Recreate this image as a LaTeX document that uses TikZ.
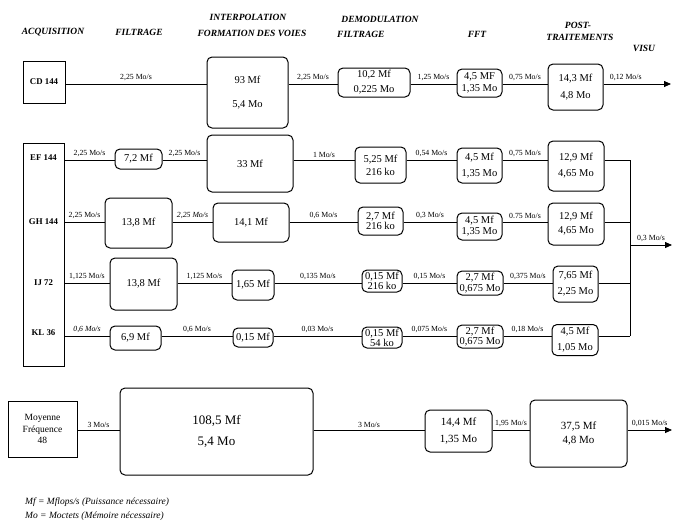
\documentclass[tikz,border=0pt]{standalone}
\usepackage{fontspec}
\setmainfont{Liberation Serif}
\usetikzlibrary{arrows.meta}

\begin{document}
\begin{tikzpicture}[
  x=1pt, y=-1pt,
  box/.style={rectangle,rounded corners=5pt,draw,line width=1pt,align=center,
    inner sep=0pt,font=\fontsize{10.5}{12}\selectfont},
  srcbox/.style={rectangle,draw,line width=1pt,inner sep=0pt},
  acq/.style={font=\fontsize{8.8}{10}\selectfont\bfseries,inner sep=0pt},
  hdr/.style={font=\fontsize{9.5}{10}\selectfont\bfseries\itshape,inner sep=0pt},
  ratelbl/.style={font=\fontsize{7.8}{8}\selectfont,inner sep=1pt,above=1.5pt,midway},
  wire/.style={line width=0.8pt},
  arrow/.style={wire,-{Triangle[length=7pt,width=6pt]}}
]
  \useasboundingbox (0,0) rectangle (673,528);

  % headings
  \node[hdr] (hacq) at (53,32) {ACQUISITION};
  \node[hdr] (hfil) at (139,32) {FILTRAGE};
  \node[hdr] (hint) at (248,17) {INTERPOLATION};
  \node[hdr] (hvoi) at (252,33) {FORMATION DES VOIES};
  \node[hdr] (hdem) at (380,19) {DEMODULATION};
  \node[hdr,anchor=west] (hdfil) at (337,34) {FILTRAGE};
  \node[hdr] (hfft) at (477,34) {FFT};
  \node[hdr] (hpos) at (578,25) {POST-};
  \node[hdr] (htra) at (580,37) {TRAITEMENTS};
  \node[hdr] (hvis) at (644,48) {VISU};

  % row levels
  \coordinate (r1) at (0,84);
  \coordinate (r2) at (0,160);
  \coordinate (r3) at (0,222);
  \coordinate (r4) at (0,283);
  \coordinate (r5) at (0,336);
  \coordinate (r6) at (0,430);

  % CD 144
  \node[srcbox,acq,minimum width=42pt,minimum height=42pt] (cd) at (44,82) {CD 144};
  \node[box,minimum width=81pt,minimum height=71pt] (mf93) at (247.5,92.5) {93 Mf\\[12pt]5,4 Mo};
  \node[box,minimum width=72pt,minimum height=29pt] (dm1) at (374,82.5) {10,2 Mf\\[3pt]0,225 Mo};
  \node[box,minimum width=45pt,minimum height=28pt] (ft1) at (479.5,83) {4,5 MF\\1,35 Mo};
  \node[box,minimum width=55pt,minimum height=46pt] (pt1) at (575.5,87) {14,3 Mf\\[5pt]4,8 Mo};
  \coordinate (visu1) at (671,84);

  % EF GH IJ KL
  \node[srcbox,minimum width=41pt,minimum height=223pt] (ag) at (43.5,254.5) {};
  \node[acq] (ef) at (43.5,158) {EF 144};
  \node[acq] (gh) at (43.5,222) {GH 144};
  \node[acq] (ij) at (43.5,283) {IJ 72};
  \node[acq] (kl) at (43.5,333) {KL 36};

  \node[box,minimum width=47pt,minimum height=20pt] (f2) at (138.5,159) {7,2 Mf};
  \node[box,minimum width=86pt,minimum height=57pt] (i2) at (250,163.5) {33 Mf};
  \node[box,minimum width=51pt,minimum height=36pt] (d2) at (380.5,165) {5,25 Mf\\[1pt]216 ko};
  \node[box,minimum width=45pt,minimum height=35pt] (t2) at (479.5,165.5) {4,5 Mf\\[4pt]1,35 Mo};
  \node[box,minimum width=56pt,minimum height=50pt] (p2) at (576,166) {12,9 Mf\\[4pt]4,65 Mo};

  \node[box,minimum width=67pt,minimum height=50pt] (f3) at (138.5,223) {13,8 Mf};
  \node[box,minimum width=76pt,minimum height=39pt] (i3) at (251,222.5) {14,1 Mf};
  \node[box,minimum width=45pt,minimum height=28pt] (d3) at (380.5,221) {2,7 Mf\\[-2pt]216 ko};
  \node[box,minimum width=45pt,minimum height=27pt] (t3) at (479.5,226.5) {4,5 Mf\\[-1pt]1,35 Mo};
  \node[box,minimum width=56pt,minimum height=42pt] (p3) at (576,224) {12,9 Mf\\[2pt]4,65 Mo};

  \node[box,minimum width=67pt,minimum height=52pt] (f4) at (143.5,284) {13,8 Mf};
  \node[box,minimum width=42pt,minimum height=30pt] (i4) at (253,285) {1,65 Mf};
  \node[box,minimum width=40pt,minimum height=22pt] (d4) at (382,281) {0,15 Mf\\[-2pt]216 ko};
  \node[box,minimum width=46pt,minimum height=24pt] (t4) at (480,283) {2,7 Mf\\[-1pt]0,675 Mo};
  \node[box,minimum width=45pt,minimum height=36pt] (p4) at (575.5,284) {7,65 Mf\\[4pt]2,25 Mo};

  \node[box,minimum width=51pt,minimum height=24pt] (f5) at (135.5,338) {6,9 Mf};
  \node[box,minimum width=40pt,minimum height=19pt] (i5) at (253,337.5) {0,15 Mf};
  \node[box,minimum width=40pt,minimum height=21pt] (d5) at (382,337.5) {0,15 Mf\\[-2pt]54 ko};
  \node[box,minimum width=46pt,minimum height=23pt] (t5) at (480,336.5) {2,7 Mf\\[-2pt]0,675 Mo};
  \node[box,minimum width=46pt,minimum height=31pt] (p5) at (575,340) {4,5 Mf\\[4pt]1,05 Mo};

  \coordinate (bus) at (630,245);
  \coordinate (visu3) at (672,245);

  % Moyenne Frequence
  \node[srcbox,align=center,font=\fontsize{9.5}{11.5}\selectfont,minimum width=69pt,minimum height=56pt] (mfq) at (42.5,429) {Moyenne\\Fréquence\\48};
  \node[box,font=\fontsize{13}{14}\selectfont,minimum width=193pt,minimum height=87pt] (b108) at (216.5,431.5) {108,5 Mf\\[7pt]5,4 Mo};
  \node[box,font=\fontsize{11}{12}\selectfont,minimum width=67pt,minimum height=42pt] (m14) at (458.5,431) {14,4 Mf\\[5pt]1,35 Mo};
  \node[box,font=\fontsize{11}{12}\selectfont,minimum width=97pt,minimum height=67pt] (p6) at (578.5,433.5) {37,5 Mf\\[2pt]4,8 Mo};
  \coordinate (visu6) at (672,430);

  % legend
  \node[anchor=west,align=left,inner sep=0pt,font=\fontsize{9.5}{14}\selectfont\itshape] (leg) at (25,509)
    {Mf = Mflops/s (Puissance nécessaire)\\Mo = Moctets (Mémoire nécessaire)};

  % links
  \draw[wire] (cd.east |- r1) -- (mf93.west |- r1) node[ratelbl]{2,25 Mo/s};
  \draw[wire] (mf93.east |- r1) -- (dm1.west |- r1) node[ratelbl]{2,25 Mo/s};
  \draw[wire] (dm1.east |- r1) -- (ft1.west |- r1) node[ratelbl]{1,25 Mo/s};
  \draw[wire] (ft1.east |- r1) -- (pt1.west |- r1) node[ratelbl]{0,75 Mo/s};
  \draw[arrow] (pt1.east |- r1) -- (visu1) node[ratelbl,pos=0.33]{0,12 Mo/s};

  \draw[wire] (ag.east |- r2) -- (f2.west |- r2) node[ratelbl]{2,25 Mo/s};
  \draw[wire] (f2.east |- r2) -- (i2.west |- r2) node[ratelbl]{2,25 Mo/s};
  \draw[wire] (i2.east |- r2) -- (d2.west |- r2) node[ratelbl]{1 Mo/s};
  \draw[wire] (d2.east |- r2) -- (t2.west |- r2) node[ratelbl]{0,54 Mo/s};
  \draw[wire] (t2.east |- r2) -- (p2.west |- r2) node[ratelbl]{0,75 Mo/s};
  \draw[wire] (p2.east |- r2) -- (bus |- r2);

  \draw[wire] (ag.east |- r3) -- (f3.west |- r3) node[ratelbl]{2,25 Mo/s};
  \draw[wire] (f3.east |- r3) -- (i3.west |- r3) node[ratelbl]{\itshape 2,25 Mo/s};
  \draw[wire] (i3.east |- r3) -- (d3.west |- r3) node[ratelbl]{0,6 Mo/s};
  \draw[wire] (d3.east |- r3) -- (t3.west |- r3) node[ratelbl]{0,3 Mo/s};
  \draw[wire] (t3.east |- r3) -- (p3.west |- r3) node[ratelbl]{0.75 Mo/s};
  \draw[wire] (p3.east |- r3) -- (bus |- r3);

  \draw[wire] (ag.east |- r4) -- (f4.west |- r4) node[ratelbl]{1,125 Mo/s};
  \draw[wire] (f4.east |- r4) -- (i4.west |- r4) node[ratelbl]{1,125 Mo/s};
  \draw[wire] (i4.east |- r4) -- (d4.west |- r4) node[ratelbl]{0,135 Mo/s};
  \draw[wire] (d4.east |- r4) -- (t4.west |- r4) node[ratelbl]{0,15 Mo/s};
  \draw[wire] (t4.east |- r4) -- (p4.west |- r4) node[ratelbl]{0,375 Mo/s};
  \draw[wire] (p4.east |- r4) -- (bus |- r4);

  \draw[wire] (ag.east |- r5) -- (f5.west |- r5) node[ratelbl]{\itshape 0,6 Mo/s};
  \draw[wire] (f5.east |- r5) -- (i5.west |- r5) node[ratelbl]{0,6 Mo/s};
  \draw[wire] (i5.east |- r5) -- (d5.west |- r5) node[ratelbl]{0,03 Mo/s};
  \draw[wire] (d5.east |- r5) -- (t5.west |- r5) node[ratelbl]{0,075 Mo/s};
  \draw[wire] (t5.east |- r5) -- (p5.west |- r5) node[ratelbl]{0,18 Mo/s};
  \draw[wire] (p5.east |- r5) -- (bus |- r5);

  \draw[wire] (bus |- r2) -- (bus |- r5);
  \draw[arrow] (bus) -- (visu3) node[ratelbl]{0,3 Mo/s};

  \draw[wire] (mfq.east |- r6) -- (b108.west |- r6) node[ratelbl]{3 Mo/s};
  \draw[wire] (b108.east |- r6) -- (m14.west |- r6) node[ratelbl]{3 Mo/s};
  \draw[wire] (m14.east |- r6) -- (p6.west |- r6) node[ratelbl]{1,95 Mo/s};
  \draw[arrow] (p6.east |- r6) -- (visu6) node[ratelbl]{0,015 Mo/s};
\end{tikzpicture}
\end{document}
